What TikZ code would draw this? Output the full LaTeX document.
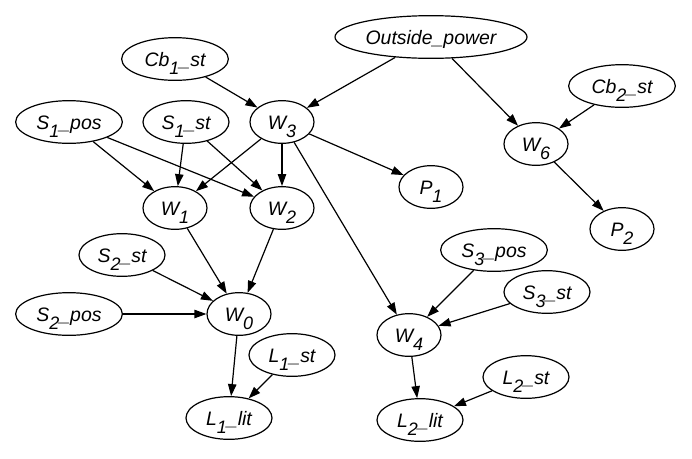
\documentclass[tikz,border=0pt]{standalone}
\usepackage{fontspec}
\setmainfont{Liberation Sans}
\usetikzlibrary{shapes.geometric,arrows.meta}
\newcommand{\low}[1]{\raisebox{-6pt}[0pt][0pt]{\fontsize{13.5}{13.5}\selectfont #1}}

\begin{document}
\begin{tikzpicture}[x=0.75pt, y=-0.75pt,
    var/.style={ellipse, draw, line width=0.9pt, inner sep=0pt, minimum height=32pt,
      text height=10.5pt, text depth=0pt, font=\fontsize{14.6}{17}\selectfont\itshape},
    small/.style={var, minimum width=48pt},
    mid/.style={var, minimum width=64.5pt},
    wide/.style={var, minimum width=80pt},
    edge/.style={-{Triangle[length=9pt,width=6.3pt]}, line width=0.9pt}]
    \useasboundingbox (0,0) rectangle (692,458);

    % Draw nodes for the top part
    \node[wide] (cb1) at (175,59) {Cb\low{1}\_st};
    \node[var, minimum width=144pt] (out) at (431,37) {Outside\_power};
    \node[wide] (cb2) at (622,86) {Cb\low{2}\_st};
    \node[wide] (s1pos) at (69,122) {S\low{1}\_pos};
    \node[mid] (s1st) at (186,122) {S\low{1}\_st};
    \node[small] (w3) at (282,122) {W\low{3}};
    \node[small] (w6) at (536,144) {W\low{6}};
    \node[small] (p1) at (431,187) {P\low{1}};
    \node[small] (p2) at (622,229) {P\low{2}};

    % Draw nodes for the left part
    \node[small] (w1) at (175,208) {W\low{1}};
    \node[small] (w2) at (282,208) {W\low{2}};
    \node[mid] (s2st) at (122,255) {S\low{2}\_st};
    \node[wide] (s2pos) at (69,314) {S\low{2}\_pos};
    \node[small] (w0) at (239,314) {W\low{0}};
    \node[mid] (l1st) at (292,355) {L\low{1}\_st};
    \node[mid] (l1lit) at (229,418) {L\low{1}\_lit};

    % Draw nodes for the right part
    \node[wide] (s3pos) at (494,250) {S\low{3}\_pos};
    \node[mid] (s3st) at (547,292) {S\low{3}\_st};
    \node[small] (w4) at (409,335) {W\low{4}};
    \node[mid] (l2st) at (526,377) {L\low{2}\_st};
    \node[mid] (l2lit) at (420,420) {L\low{2}\_lit};

    % Draw edges from the top
    \draw[edge] (cb1) -- (w3);
    \draw[edge] (out) -- (w3);
    \draw[edge] (out) -- (w6);
    \draw[edge] (cb2) -- (w6);
    \draw[edge] (w6) -- (p2);
    \draw[edge] (w3) -- (p1);
    \draw[edge] (w3) -- (w1);
    \draw[edge] (w3) -- (w2);
    \draw[edge] (w3) -- (w4);

    % Draw edges on the left
    \draw[edge] (s1pos) -- (w1);
    \draw[edge] (s1pos) -- (w2);
    \draw[edge] (s1st) -- (w1);
    \draw[edge] (s1st) -- (w2);
    \draw[edge] (w1) -- (w0);
    \draw[edge] (w2) -- (w0);
    \draw[edge] (s2st) -- (w0);
    \draw[edge] (s2pos) -- (w0);
    \draw[edge] (w0) -- (l1lit);
    \draw[edge] (l1st) -- (l1lit);

    % Draw edges on the right
    \draw[edge] (s3pos) -- (w4);
    \draw[edge] (s3st) -- (w4);
    \draw[edge] (w4) -- (l2lit);
    \draw[edge] (l2st) -- (l2lit);
\end{tikzpicture}
\end{document}
